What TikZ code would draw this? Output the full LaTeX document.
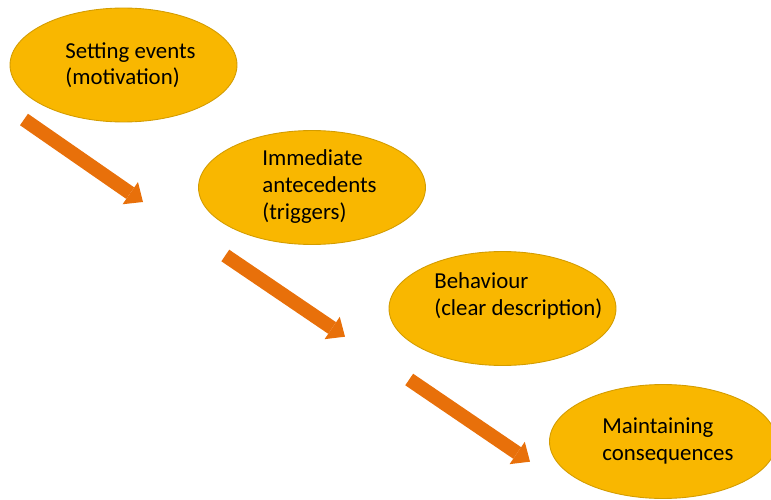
\documentclass[tikz,border=0pt]{standalone}
\usepackage{fontspec}
\setmainfont{Carlito}
\usepackage{xcolor}
\usetikzlibrary{arrows.meta,shapes.geometric}
\definecolor{blobgold}{HTML}{F9B700}
\definecolor{blobedge}{HTML}{D39C00}
\definecolor{flowor}{HTML}{E8700A}
\tikzset{blob/.style={ellipse,draw=blobedge,fill=blobgold,line width=0.5pt,
  minimum width=4.54cm,minimum height=2.28cm,inner sep=0pt},
  blobtext/.style={align=left,inner sep=0pt,anchor=base west,
  font=\fontsize{13}{15.2}\selectfont},
  flow/.style={draw=flowor,line width=0.28cm,
  -{Triangle[length=3.1mm,width=5.4mm,line width=0pt]}}}

\begin{document}
\begin{tikzpicture}[x=0.02cm,y=-0.02cm]
 \useasboundingbox (0,0) rectangle (771,500);
 % ellipses
 \node[blob] (setting) at (123.5,65) {};
 \node[blob] (trigger) at (312,187.5) {};
 \node[blob] (behave) at (502.5,308.5) {};
 \node[blob] (maintain) at (663,441.5) {};
 % texts (base = last line)
 \node[blobtext] (settingtxt) at (65,85) {Setting events\\(motivation)};
 \node[blobtext] (triggertxt) at (262,219) {Immediate\\antecedents\\(triggers)};
 \node[blobtext] (behavetxt) at (434,315) {Behaviour\\(clear description)};
 \node[blobtext] (maintaintxt) at (602,460) {Maintaining\\consequences};
 % arrows
 \coordinate (f1s) at (24,119.5);  \coordinate (f1e) at (143,202);
 \coordinate (f2s) at (225.3,255.5); \coordinate (f2e) at (345,336.7);
 \coordinate (f3s) at (409.2,379.5); \coordinate (f3e) at (530,461.7);
 \draw[flow] (f1s) -- (f1e);
 \draw[flow] (f2s) -- (f2e);
 \draw[flow] (f3s) -- (f3e);
\end{tikzpicture}
\end{document}
